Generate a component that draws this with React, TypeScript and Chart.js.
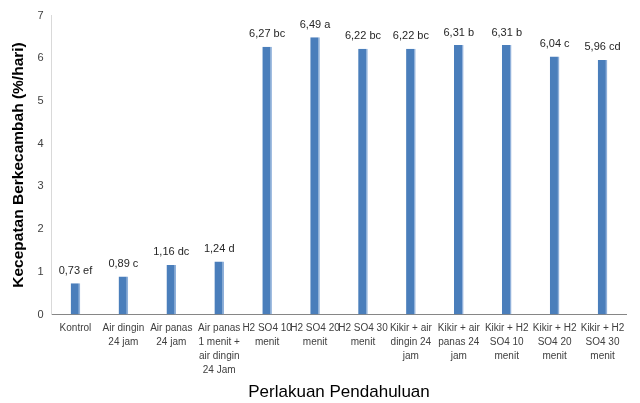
import React, { useEffect, useRef } from "react";
import { Chart, registerables } from "chart.js";

Chart.register(...registerables);

const categories: (string | string[])[] = [
  "Kontrol",
  ["Air dingin", "24 jam"],
  ["Air panas", "24 jam"],
  ["Air panas", "1 menit +", "air dingin", "24 Jam"],
  ["H2 SO4 10", "menit"],
  ["H2 SO4 20", "menit"],
  ["H2 SO4 30", "menit"],
  ["Kikir + air", "dingin 24", "jam"],
  ["Kikir + air", "panas 24", "jam"],
  ["Kikir + H2", "SO4 10", "menit"],
  ["Kikir + H2", "SO4 20", "menit"],
  ["Kikir + H2", "SO4 30", "menit"],
];

const values: number[] = [0.73, 0.89, 1.16, 1.24, 6.27, 6.49, 6.22, 6.22, 6.31, 6.31, 6.04, 5.96];

const valueLabels: string[] = [
  "0,73 ef", "0,89 c", "1,16 dc", "1,24 d", "6,27 bc", "6,49 a",
  "6,22 bc", "6,22 bc", "6,31 b", "6,31 b", "6,04 c", "5,96 cd",
];

const yTitle = "Kecepatan Berkecambah (%/hari)";
const xTitle = "Perlakuan Pendahuluan";

const FONT = "'Liberation Sans', Arial, sans-serif";

const labelPlugin = {
  id: "barValueLabels",
  afterDatasetsDraw(chart: any) {
    const ctx = chart.ctx;
    const meta = chart.getDatasetMeta(0);
    ctx.save();
    ctx.font = `11px ${FONT}`;
    ctx.fillStyle = "#262626";
    ctx.textAlign = "center";
    ctx.textBaseline = "bottom";
    meta.data.forEach((bar: any, i: number) => {
      ctx.fillText(valueLabels[i], bar.x, bar.y - 7);
    });
    ctx.restore();
  },
};

export default function App() {
  const canvasRef = useRef<HTMLCanvasElement | null>(null);

  useEffect(() => {
    if (!canvasRef.current) return;
    Chart.defaults.font.family = FONT;
    const chart = new Chart(canvasRef.current, {
      type: "bar",
      data: {
        labels: categories,
        datasets: [
          {
            data: values,
            backgroundColor: "#4A7EBB",
            borderColor: "#8FB0DA",
            borderWidth: { right: 1.5, left: 0, top: 0, bottom: 0 } as any,
            borderSkipped: false,
            barPercentage: 0.2,
            categoryPercentage: 1,
          },
        ],
      },
      options: {
        responsive: false,
        animation: false,
        layout: { padding: { top: 15.5, right: 13.5, left: 0, bottom: 0 } },
        plugins: {
          legend: { display: false },
          tooltip: { enabled: false },
        },
        scales: {
          x: {
            grid: { display: false, drawTicks: false },
            border: { display: true, color: "#868686", width: 1 },
            ticks: {
              color: "#404040",
              font: { size: 10, lineHeight: 1.4 },
              padding: 7,
              maxRotation: 0,
              minRotation: 0,
              autoSkip: false,
            },
            title: {
              display: true,
              text: xTitle,
              color: "#000000",
              font: { size: 17, weight: "normal", lineHeight: 1.2 },
              padding: { top: 0, bottom: 0 },
            },
            afterFit(scale: any) {
              scale.height = 88.5;
            },
          },
          y: {
            min: 0,
            max: 7,
            grid: { display: false, drawTicks: false },
            border: { display: true, color: "#D9D9D9", width: 1 },
            ticks: {
              stepSize: 1,
              color: "#404040",
              font: { size: 11 },
              padding: 8,
            },
            title: {
              display: true,
              text: yTitle,
              color: "#000000",
              font: { size: 15.5, weight: "bold", lineHeight: 1.2 },
              padding: { top: 9, bottom: 0 },
            },
            afterFit(scale: any) {
              scale.width = 51.5;
            },
          },
        },
      },
      plugins: [labelPlugin],
    });
    return () => chart.destroy();
  }, []);

  return (
    <div style={{ position: "absolute", left: 0, top: 0, width: 640, height: 403, background: "#ffffff" }}>
      <canvas ref={canvasRef} width={640} height={403} style={{ display: "block" }} />
    </div>
  );
}
